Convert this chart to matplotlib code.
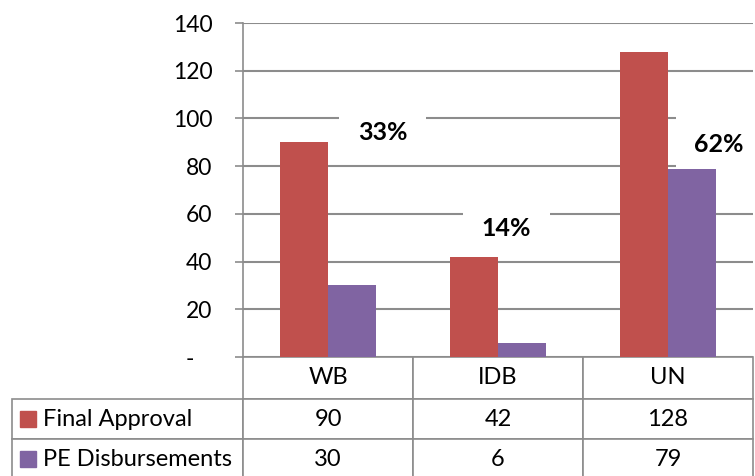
import matplotlib
matplotlib.use('Agg')
import matplotlib.pyplot as plt
import numpy as np

# data
categories = ['WB', 'IDB', 'UN']
final_approval = [90, 42, 128]
pe_disbursements = [30, 6, 79]
series_names = ['Final Approval', 'PE Disbursements']
pct_labels = ['33%', '14%', '62%']
pct_pos_x = [0.32, 1.05, 2.30]
pct_pos_y = [94, 54, 89]
yticks = [0, 20, 40, 60, 80, 100, 120, 140]
ytick_labels = ['-   ', '20', '40', '60', '80', '100', '120', '140']

red = '#C0504D'
purple = '#8064A2'
grey = '#8C8C8C'

plt.rcParams['font.family'] = ['Lato', 'DejaVu Sans']

fig = plt.figure(figsize=(7.55, 4.76), dpi=100)
ax = fig.add_axes([243/755, 1 - 357/476, 510/755, 334/476])

x = np.arange(len(categories))
w = 0.283
ax.bar(x - w/2, final_approval, w, color=red, zorder=2)
ax.bar(x + w/2, pe_disbursements, w, color=purple, zorder=2)

ax.set_xlim(-0.5, 2.5)
ax.set_ylim(0, 140)
ax.set_yticks(yticks)
ax.set_yticklabels(ytick_labels, fontsize=16.5)
ax.set_xticks([])
ax.set_axisbelow(True)
ax.yaxis.grid(True, color=grey, lw=1.5)
ax.tick_params(axis='y', length=6, width=1.2, color=grey, pad=16)
for s in ['top', 'right', 'bottom']:
    ax.spines[s].set_visible(False)
ax.spines['left'].set_color(grey)
ax.spines['left'].set_linewidth(1.2)

# percentage labels
for lx, ly, t in zip(pct_pos_x, pct_pos_y, pct_labels):
    ax.text(lx, ly, t, ha='center', va='center', fontsize=18,
            fontweight='bold', zorder=1.5,
            bbox=dict(boxstyle='square,pad=0.75', facecolor='white', edgecolor='none'))

# data table (widths/heights in axes units so the bbox scale is 1)
cell_text = [[str(v) for v in final_approval], [str(v) for v in pe_disbursements]]
tbl = ax.table(cellText=cell_text, rowLabels=series_names, colLabels=categories,
               cellLoc='center', rowLoc='left',
               bbox=[0, -122/334, 1, 122/334])
tbl._autoColumns = []  # keep the row-label column at a fixed width
tbl.auto_set_font_size(False)
tbl.set_fontsize(17)
row_h = {0: 42/334, 1: 40/334, 2: 40/334}
for (r, c), cell in tbl.get_celld().items():
    cell.set_edgecolor(grey)
    cell.set_linewidth(1.2)
    cell.set_height(row_h[r])
    cell.set_width(231/510 if c == -1 else 1/3)
    if c == -1:
        cell.PAD = 31/231
tbl.set_clip_on(False)

# legend keys inside row labels
for yy, col in zip([-62/334, -102/334], [red, purple]):
    ax.plot([-215/510], [yy], marker='s', ms=11, color=col, transform=ax.transAxes,
            clip_on=False, ls='none')

fig.savefig('out.png', dpi=100)
